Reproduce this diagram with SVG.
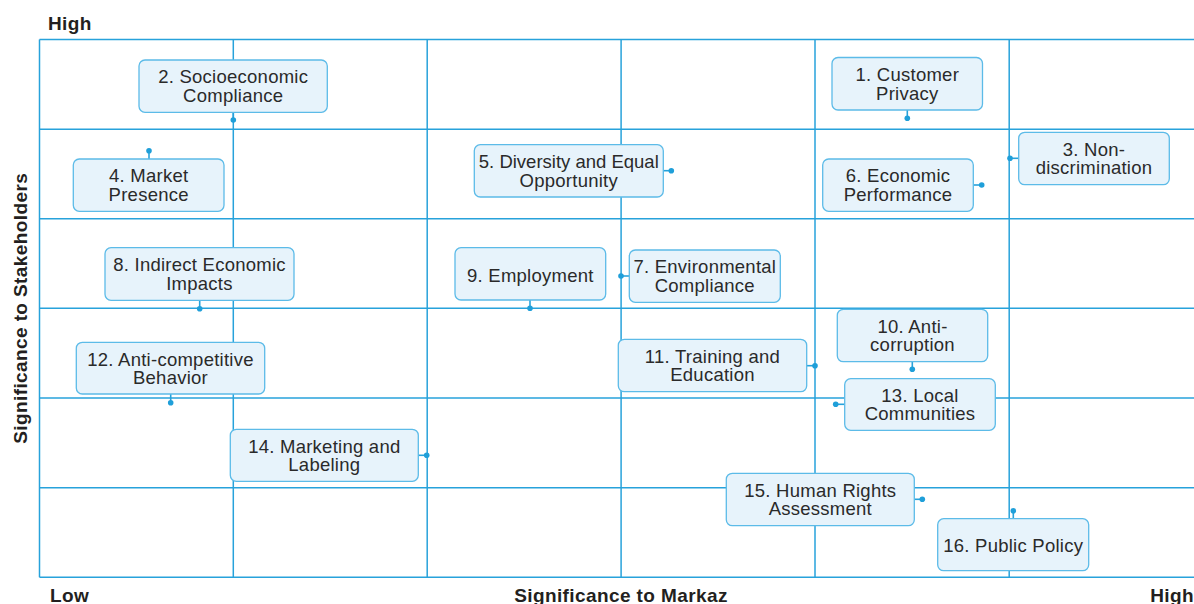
<svg xmlns="http://www.w3.org/2000/svg" width="1194" height="604" viewBox="0 0 1194 604">
  <style>
    .grid { stroke: #27a2db; stroke-width: 1.5; fill: none; }
    .node rect { fill: #e7f3fb; stroke: #5cbbe8; stroke-width: 1.3; }
    .node text { font-family: "Liberation Sans", Arial, sans-serif; font-size: 18.5px; letter-spacing: 0.25px; fill: #2a2a2a; text-anchor: middle; }
    .node text.tight { letter-spacing: 0; }
    .conn line { stroke: #27a2db; stroke-width: 1.6; }
    .conn circle { fill: #1f9fd9; }
    .axis { font-family: "Liberation Sans", Arial, sans-serif; font-size: 19px; font-weight: bold; letter-spacing: 0.4px; fill: #231f20; }
  </style>

  <rect width="1194" height="604" fill="#ffffff"/>

  <!-- 6 x 6 matrix grid -->
  <g id="grid" class="grid">
    <line x1="39.5" y1="39.5" x2="1194" y2="39.5"/>
    <line x1="39.5" y1="129.2" x2="1194" y2="129.2"/>
    <line x1="39.5" y1="218.8" x2="1194" y2="218.8"/>
    <line x1="39.5" y1="308.3" x2="1194" y2="308.3"/>
    <line x1="39.5" y1="398" x2="1194" y2="398"/>
    <line x1="39.5" y1="487.7" x2="1194" y2="487.7"/>
    <line x1="39.5" y1="577.3" x2="1194" y2="577.3"/>
    <line x1="39.5" y1="39.5" x2="39.5" y2="577.3"/>
    <line x1="233.3" y1="39.5" x2="233.3" y2="577.3"/>
    <line x1="427.2" y1="39.5" x2="427.2" y2="577.3"/>
    <line x1="621.1" y1="39.5" x2="621.1" y2="577.3"/>
    <line x1="815" y1="39.5" x2="815" y2="577.3"/>
    <line x1="1009.2" y1="39.5" x2="1009.2" y2="577.3"/>
  </g>

  <!-- axis captions -->
  <g id="axes">
    <text class="axis" x="48" y="29.5">High</text>
    <text class="axis" x="50" y="601.5">Low</text>
    <text class="axis" x="621" y="601.5" text-anchor="middle">Significance to Markaz</text>
    <text class="axis" x="1194" y="601.5" text-anchor="end">High</text>
    <text class="axis" transform="translate(26.5,308.3) rotate(-90)" text-anchor="middle">Significance to Stakeholders</text>
  </g>

  <!-- leader ticks from each topic box to its plotted point -->
  <g id="connectors" class="conn">
    <line x1="907.3" y1="110" x2="907.3" y2="118.3"/><circle cx="907.3" cy="118.3" r="2.8"/>
    <line x1="233.3" y1="112.3" x2="233.3" y2="120"/><circle cx="233.3" cy="120" r="2.8"/>
    <line x1="1018.7" y1="158.3" x2="1010" y2="158.3"/><circle cx="1010" cy="158.3" r="2.8"/>
    <line x1="149" y1="159" x2="149" y2="150.7"/><circle cx="149" cy="150.7" r="2.8"/>
    <line x1="663.3" y1="170.7" x2="671.3" y2="170.7"/><circle cx="671.3" cy="170.7" r="2.8"/>
    <line x1="973.3" y1="185" x2="981.7" y2="185"/><circle cx="981.7" cy="185" r="2.8"/>
    <line x1="629.3" y1="276" x2="621" y2="276"/><circle cx="621" cy="276" r="2.8"/>
    <line x1="199.7" y1="300.3" x2="199.7" y2="308.7"/><circle cx="199.7" cy="308.7" r="2.8"/>
    <line x1="530" y1="300" x2="530" y2="308.3"/><circle cx="530" cy="308.3" r="2.8"/>
    <line x1="912.3" y1="361.7" x2="912.3" y2="369.3"/><circle cx="912.3" cy="369.3" r="2.8"/>
    <line x1="806.7" y1="365.7" x2="815" y2="365.7"/><circle cx="815" cy="365.7" r="2.8"/>
    <line x1="170.7" y1="394" x2="170.7" y2="402.7"/><circle cx="170.7" cy="402.7" r="2.8"/>
    <line x1="844.7" y1="404.3" x2="835.7" y2="404.3"/><circle cx="835.7" cy="404.3" r="2.8"/>
    <line x1="418.3" y1="455.3" x2="426.7" y2="455.3"/><circle cx="426.7" cy="455.3" r="2.8"/>
    <line x1="914.3" y1="499.3" x2="922.3" y2="499.3"/><circle cx="922.3" cy="499.3" r="2.8"/>
    <line x1="1013.3" y1="518.7" x2="1013.3" y2="510.7"/><circle cx="1013.3" cy="510.7" r="2.8"/>
  </g>

  <!-- topic boxes -->
  <g id="node-1" class="node">
    <rect x="832" y="57.5" width="150.5" height="52.5" rx="6"/>
    <text x="907.3" y="81">1. Customer</text>
    <text x="907.3" y="99.5">Privacy</text>
  </g>
  <g id="node-2" class="node">
    <rect x="139" y="60" width="188.3" height="52.3" rx="6"/>
    <text x="233.2" y="83.4">2. Socioeconomic</text>
    <text x="233.2" y="101.8">Compliance</text>
  </g>
  <g id="node-3" class="node">
    <rect x="1018.7" y="132.3" width="150.6" height="52.4" rx="6"/>
    <text x="1094" y="155.8">3. Non-</text>
    <text x="1094" y="174.3">discrimination</text>
  </g>
  <g id="node-4" class="node">
    <rect x="73.3" y="159" width="150.7" height="52.3" rx="6"/>
    <text x="148.7" y="182.4">4. Market</text>
    <text x="148.7" y="200.8">Presence</text>
  </g>
  <g id="node-5" class="node">
    <rect x="474.3" y="144.7" width="189" height="52.3" rx="6"/>
    <text class="tight" x="568.8" y="168.1">5. Diversity and Equal</text>
    <text x="568.8" y="186.5">Opportunity</text>
  </g>
  <g id="node-6" class="node">
    <rect x="822.7" y="159" width="150.6" height="52.3" rx="6"/>
    <text x="898" y="182.4">6. Economic</text>
    <text x="898" y="200.8">Performance</text>
  </g>
  <g id="node-7" class="node">
    <rect x="629.3" y="250" width="151" height="52.3" rx="6"/>
    <text x="704.8" y="273.4">7. Environmental</text>
    <text x="704.8" y="291.8">Compliance</text>
  </g>
  <g id="node-8" class="node">
    <rect x="105" y="247.7" width="189" height="52.6" rx="6"/>
    <text x="199.5" y="271.2">8. Indirect Economic</text>
    <text x="199.5" y="289.6">Impacts</text>
  </g>
  <g id="node-9" class="node">
    <rect x="455" y="247.7" width="150.7" height="52.3" rx="6"/>
    <text x="530.3" y="281.6">9. Employment</text>
  </g>
  <g id="node-10" class="node">
    <rect x="837.3" y="309.3" width="150.4" height="52.4" rx="6"/>
    <text x="912.5" y="332.8">10. Anti-</text>
    <text x="912.5" y="351.2">corruption</text>
  </g>
  <g id="node-11" class="node">
    <rect x="618.3" y="339.3" width="188.4" height="52.4" rx="6"/>
    <text x="712.5" y="362.8">11. Training and</text>
    <text x="712.5" y="381.2">Education</text>
  </g>
  <g id="node-12" class="node">
    <rect x="76.3" y="342.3" width="188.4" height="51.7" rx="6"/>
    <text x="170.5" y="365.6">12. Anti-competitive</text>
    <text x="170.5" y="384">Behavior</text>
  </g>
  <g id="node-13" class="node">
    <rect x="844.7" y="378.7" width="150.6" height="51.6" rx="6"/>
    <text x="920" y="402">13. Local</text>
    <text x="920" y="420.4">Communities</text>
  </g>
  <g id="node-14" class="node">
    <rect x="230.3" y="429.3" width="188" height="52" rx="6"/>
    <text x="324.3" y="452.6">14. Marketing and</text>
    <text x="324.3" y="471">Labeling</text>
  </g>
  <g id="node-15" class="node">
    <rect x="726.3" y="473.3" width="188" height="52.4" rx="6"/>
    <text x="820.3" y="496.8">15. Human Rights</text>
    <text x="820.3" y="515.2">Assessment</text>
  </g>
  <g id="node-16" class="node">
    <rect x="937.7" y="518.7" width="151" height="52" rx="6"/>
    <text x="1013.2" y="552.2">16. Public Policy</text>
  </g>
</svg>
